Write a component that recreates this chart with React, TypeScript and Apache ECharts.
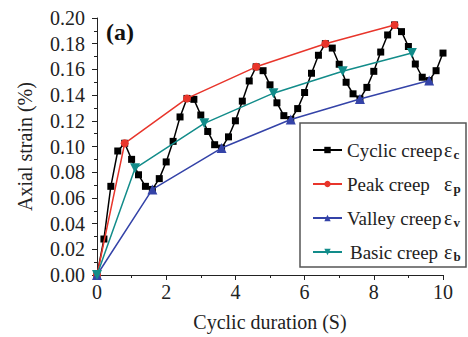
import React, { useEffect, useRef } from "react";
import * as echarts from "echarts";

// Cyclic duration (S) sampled every 0.2
const cyclicX = [
  0, 0.2, 0.4, 0.6, 0.8, 1.0, 1.2, 1.4, 1.6, 1.8, 2.0, 2.2, 2.4, 2.6, 2.8, 3.0,
  3.2, 3.4, 3.6, 3.8, 4.0, 4.2, 4.4, 4.6, 4.8, 5.0, 5.2, 5.4, 5.6, 5.8, 6.0,
  6.2, 6.4, 6.6, 6.8, 7.0, 7.2, 7.4, 7.6, 7.8, 8.0, 8.2, 8.4, 8.6, 8.8, 9.0,
  9.2, 9.4, 9.6, 9.8, 10.0,
];
const cyclicY = [
  0, 0.028, 0.069, 0.0965, 0.1025, 0.09, 0.078, 0.069, 0.0666, 0.075, 0.088,
  0.104, 0.123, 0.1374, 0.1367, 0.1245, 0.1117, 0.1014, 0.0988, 0.1075, 0.12,
  0.1353, 0.151, 0.162, 0.159, 0.148, 0.134, 0.124, 0.121, 0.1295, 0.142,
  0.157, 0.171, 0.18, 0.1766, 0.164, 0.15, 0.141, 0.137, 0.146, 0.1585,
  0.1735, 0.1868, 0.1946, 0.1894, 0.1778, 0.1642, 0.1539, 0.1513, 0.159,
  0.1727,
];

const peakX = [0, 0.8, 2.6, 4.6, 6.6, 8.6];
const peakY = [0, 0.1025, 0.1374, 0.162, 0.18, 0.1946];

const valleyX = [0, 1.6, 3.6, 5.6, 7.6, 9.6];
const valleyY = [0, 0.0666, 0.0988, 0.121, 0.137, 0.1513];

const basicX = [0, 1.1, 3.1, 5.1, 7.1, 9.1];
const basicY = [0, 0.083, 0.118, 0.1415, 0.1585, 0.1727];

const seriesNames = ["Cyclic creep", "Peak creep", "Valley creep", "Basic creep"];
const subscripts = ["c", "p", "v", "b"];

const xTicks = { min: 0, max: 10, interval: 2 };
const yTicks = { min: 0, max: 0.2, interval: 0.02 };

const FONT = "Liberation Serif";

const pairs = (xs: number[], ys: number[]) => xs.map((x, i) => [x, ys[i]]);

export default function App() {
  const ref = useRef<HTMLDivElement>(null);

  useEffect(() => {
    if (!ref.current) return;
    const chart = echarts.init(ref.current, undefined, { renderer: "svg" });

    const legendLabel = (name: string) => {
      const i = seriesNames.indexOf(name);
      const key = i === 3 ? "nb" : "n";
      return `{${key}|${name}}{e|ε}{s|${subscripts[i]}}`;
    };

    chart.setOption({
      animation: false,
      backgroundColor: "#ffffff",
      grid: { left: 97, right: 25, top: 18, bottom: 60 },
      xAxis: {
        type: "value",
        min: xTicks.min,
        max: xTicks.max,
        interval: xTicks.interval,
        name: "Cyclic duration (S)",
        nameLocation: "middle",
        nameGap: 37,
        nameTextStyle: { fontFamily: FONT, fontSize: 20, color: "#222" },
        axisLine: { lineStyle: { color: "#222", width: 1 } },
        axisTick: { length: 5, lineStyle: { color: "#222" } },
        minorTick: { show: true, splitNumber: 2, length: 3, lineStyle: { color: "#222" } },
        axisLabel: { fontFamily: FONT, fontSize: 20, color: "#222", margin: 7 },
        splitLine: { show: false },
      },
      yAxis: {
        type: "value",
        min: yTicks.min,
        max: yTicks.max,
        interval: yTicks.interval,
        name: "Axial strain (%)",
        nameLocation: "middle",
        nameGap: 62,
        nameTextStyle: { fontFamily: FONT, fontSize: 20, color: "#222" },
        axisLine: { show: true, lineStyle: { color: "#222", width: 1 } },
        axisTick: { length: 5, lineStyle: { color: "#222" } },
        minorTick: { show: true, splitNumber: 2, length: 3, lineStyle: { color: "#222" } },
        axisLabel: {
          fontFamily: FONT,
          fontSize: 20,
          color: "#222",
          margin: 12,
          formatter: (v: number) => v.toFixed(2),
        },
        splitLine: { show: false },
      },
      legend: {
        orient: "vertical",
        left: 307,
        top: 134,
        itemWidth: 29,
        itemHeight: 8,
        itemGap: 12,
        data: seriesNames,
        formatter: legendLabel,
        textStyle: {
          fontFamily: FONT,
          fontSize: 19,
          color: "#222",
          rich: {
            n: { fontFamily: FONT, fontSize: 19, color: "#222", width: 97, lineHeight: 24 },
            nb: {
              fontFamily: FONT,
              fontSize: 19,
              color: "#222",
              width: 94,
              lineHeight: 24,
              padding: [0, 0, 0, 3],
            },
            e: { fontFamily: FONT, fontSize: 20, color: "#222", lineHeight: 24 },
            s: {
              fontFamily: FONT,
              fontSize: 13,
              fontWeight: "bold",
              color: "#222",
              lineHeight: 24,
              padding: [9, 0, 0, 1],
            },
          },
        },
      },
      graphic: [
        {
          type: "rect",
          shape: { x: 300, y: 123, width: 166, height: 144 },
          style: { fill: "#ffffff", stroke: "#555", lineWidth: 1.5 },
          z: 0,
        },
        {
          type: "text",
          x: 106,
          y: 20,
          style: {
            text: "(a)",
            fontFamily: FONT,
            fontSize: 24,
            fontWeight: "bold",
            fill: "#111",
          },
          z: 10,
        },
      ],
      series: [
        {
          name: seriesNames[0],
          type: "line",
          data: pairs(cyclicX, cyclicY),
          symbol: "rect",
          symbolSize: 7,
          itemStyle: { color: "#000000" },
          lineStyle: { color: "#000000", width: 1.5 },
          z: 2,
        },
        {
          name: seriesNames[1],
          type: "line",
          data: pairs(peakX, peakY),
          symbol: "circle",
          symbolSize: 8,
          itemStyle: { color: "#e8352b" },
          lineStyle: { color: "#e8352b", width: 1.5 },
          z: 3,
        },
        {
          name: seriesNames[2],
          type: "line",
          data: pairs(valleyX, valleyY),
          symbol: "triangle",
          symbolSize: 10,
          itemStyle: { color: "#3443a8" },
          lineStyle: { color: "#3443a8", width: 1.5 },
          z: 4,
        },
        {
          name: seriesNames[3],
          type: "line",
          data: pairs(basicX, basicY),
          symbol: "triangle",
          symbolRotate: 180,
          symbolSize: 10,
          itemStyle: { color: "#128c8a" },
          lineStyle: { color: "#128c8a", width: 1.5 },
          z: 5,
        },
      ],
    });

    return () => chart.dispose();
  }, []);

  return (
    <div
      ref={ref}
      style={{ position: "fixed", left: 0, top: 0, width: 468, height: 337 }}
    />
  );
}
